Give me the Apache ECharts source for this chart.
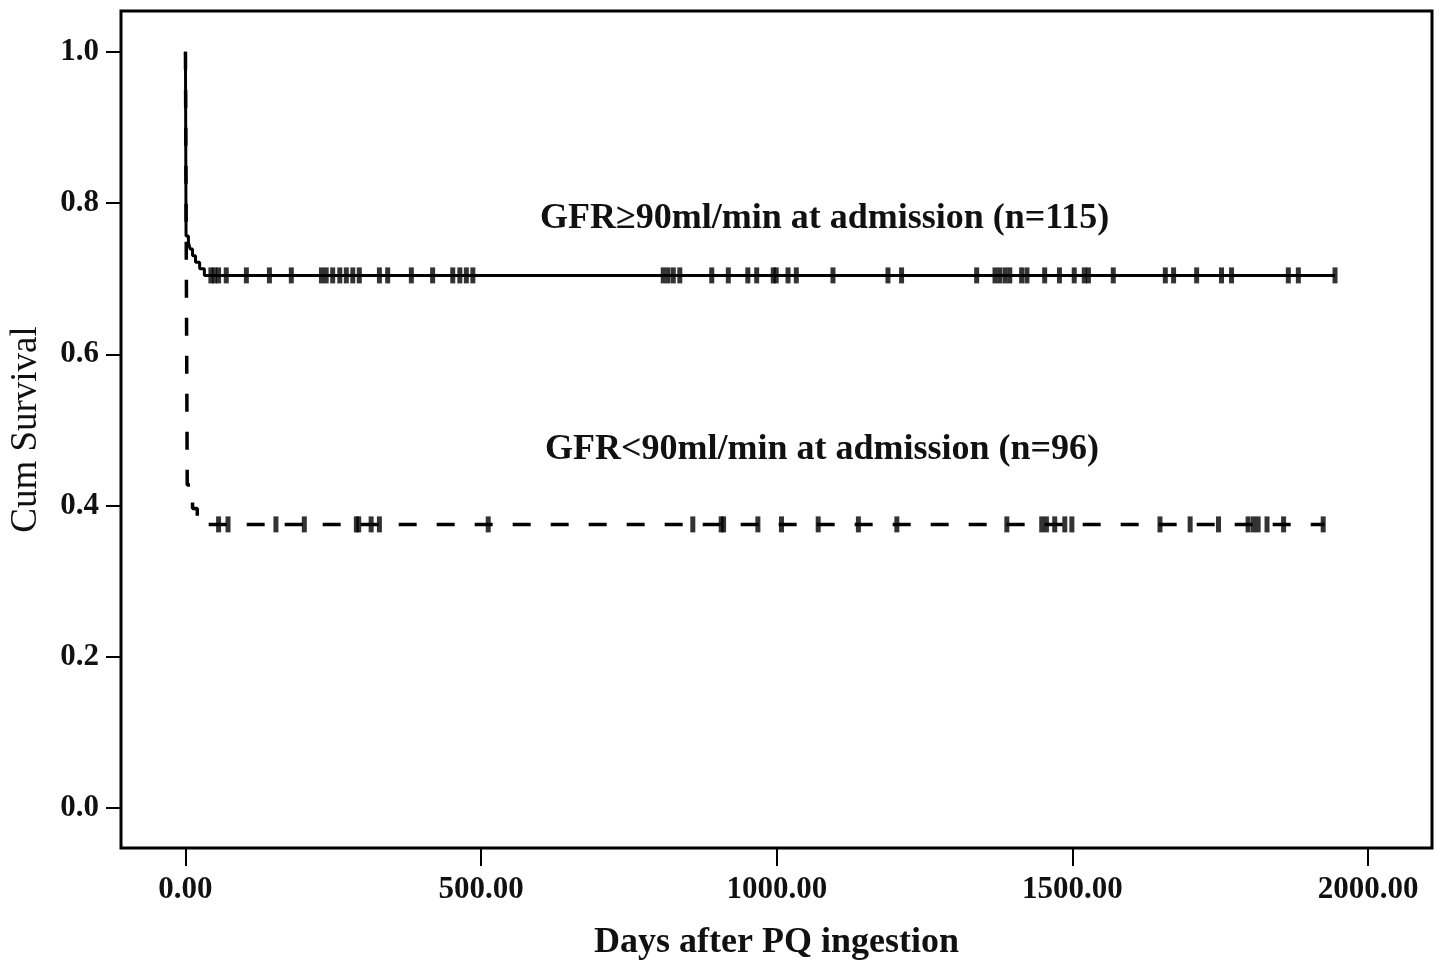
<!DOCTYPE html>
<html>
<head>
<meta charset="utf-8">
<script src="https://cdn.jsdelivr.net/npm/echarts@6/dist/echarts.min.js"></script>
<style>
  html, body { margin: 0; padding: 0; background: #fff; }
  #chart { width: 1442px; height: 968px; }
</style>
</head>
<body>
<div id="chart"></div>
<script>
// tick labels
var xTicks = [0, 500, 1000, 1500, 2000]
var yTicks = [0, 0.2, 0.4, 0.6, 0.8, 1.0]

// GFR >= 90 group: step points (days, cumulative survival)
var highDays = [0, 1, 5, 8, 12, 17, 24, 32, 1944]
var highSurv = [1.0, 0.7565, 0.7478, 0.7391, 0.7304, 0.7217, 0.713, 0.7043, 0.7043]
var highCensored = [43, 49, 56, 69, 103, 142, 179, 230, 238, 249, 261, 272, 283, 294, 328, 342,
  382, 418, 452, 464, 475, 486, 808, 816, 825, 836, 890, 918, 951, 966, 994, 999, 1019, 1033,
  1095, 1188, 1211, 1338, 1369, 1377, 1386, 1394, 1414, 1423, 1453, 1478, 1503, 1520, 1527,
  1569, 1657, 1671, 1710, 1752, 1769, 1865, 1882, 1944]

// GFR < 90 group
var lowDays = [0, 3, 12, 20, 1926]
var lowSurv = [1.0, 0.427, 0.396, 0.375, 0.375]
var lowCensored = [56, 72, 153, 201, 289, 293, 314, 328, 512, 858, 906, 910, 968, 1008, 1070,
  1138, 1203, 1389, 1448, 1456, 1470, 1487, 1499, 1648, 1699, 1747, 1797, 1806, 1814, 1829,
  1857, 1924]

var labels = ['GFR\u226590ml/min at admission (n=115)', 'GFR<90ml/min at admission (n=96)']

function zip(a, b) {
  return a.map(function (v, i) { return [v, b[i]] })
}
// survival value at time t on a KM step curve
function survAt(days, surv, t) {
  var s = surv[0]
  for (var i = 0; i < days.length; i++) {
    if (days[i] <= t) s = surv[i]
  }
  return s
}
function censorPoints(times, days, surv) {
  return times.map(function (t) { return [t, survAt(days, surv, t)] })
}

var FONT = '"Liberation Serif", "Times New Roman", serif'
var chart = echarts.init(document.getElementById('chart'))

chart.setOption({
  animation: false,
  backgroundColor: '#fff',
  grid: {
    left: 121,
    right: 10,
    top: 11,
    bottom: 120,
    show: true,
    borderColor: '#000',
    borderWidth: 3
  },
  xAxis: {
    type: 'value',
    min: -109,
    max: 2108,
    splitLine: { show: false },
    axisLine: { show: false, onZero: false },
    axisTick: {
      show: true,
      customValues: xTicks,
      length: 18,
      lineStyle: { color: '#000', width: 2 }
    },
    axisLabel: {
      customValues: xTicks,
      margin: 26,
      color: '#111',
      fontFamily: FONT,
      fontWeight: 'bold',
      fontSize: 31,
      formatter: function (v) { return v.toFixed(2) }
    },
    name: 'Days after PQ ingestion',
    nameLocation: 'middle',
    nameGap: 77,
    nameTextStyle: {
      color: '#111',
      fontFamily: FONT,
      fontWeight: 'bold',
      fontSize: 36
    }
  },
  yAxis: {
    type: 'value',
    min: -0.053,
    max: 1.054,
    splitLine: { show: false },
    axisLine: { show: false, onZero: false },
    axisTick: {
      show: true,
      customValues: yTicks,
      length: 15,
      lineStyle: { color: '#000', width: 2 }
    },
    axisLabel: {
      customValues: yTicks,
      margin: 22,
      color: '#111',
      fontFamily: FONT,
      fontWeight: 'bold',
      fontSize: 31,
      formatter: function (v) { return v.toFixed(1) }
    },
    name: 'Cum Survival',
    nameLocation: 'middle',
    nameGap: 76,
    nameTextStyle: {
      color: '#111',
      fontFamily: FONT,
      fontSize: 37
    }
  },
  graphic: [
    {
      type: 'text',
      left: 540,
      top: 201,
      style: { text: labels[0], fill: '#111', font: 'bold 36px ' + FONT }
    },
    {
      type: 'text',
      left: 545,
      top: 432,
      style: { text: labels[1], fill: '#111', font: 'bold 36px ' + FONT }
    }
  ],
  series: [
    {
      name: labels[1],
      type: 'line',
      step: 'end',
      showSymbol: false,
      data: zip(lowDays, lowSurv),
      lineStyle: { color: '#000', width: 3.5, type: [18, 20] }
    },
    {
      name: labels[0],
      type: 'line',
      step: 'end',
      showSymbol: false,
      data: zip(highDays, highSurv),
      lineStyle: { color: '#000', width: 3 }
    },
    {
      type: 'scatter',
      symbol: 'rect',
      symbolSize: [5, 16],
      itemStyle: { color: '#000' },
      data: censorPoints(highCensored, highDays, highSurv)
    },
    {
      type: 'scatter',
      symbol: 'rect',
      symbolSize: [5, 16],
      itemStyle: { color: '#000' },
      data: censorPoints(lowCensored, lowDays, lowSurv)
    }
  ]
})
</script>
</body>
</html>
